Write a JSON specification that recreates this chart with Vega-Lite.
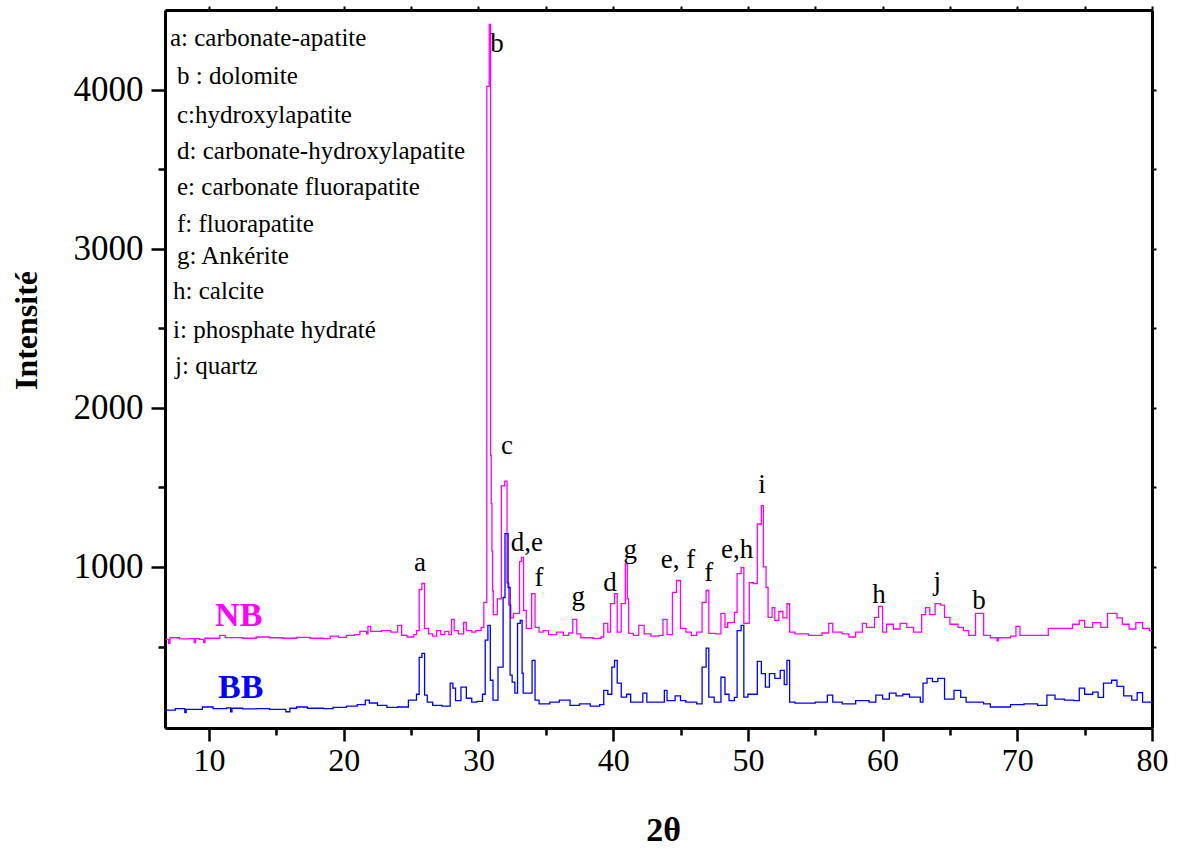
{
"$schema": "https://vega.github.io/schema/vega-lite/v6.json",
"width": 987, "height": 718,
"autosize": {"type": "none"},
"padding": {"left": 165, "top": 10, "right": 26, "bottom": 121},
"background": "white",
"config": {"view": {"stroke": null}, "font": "Liberation Serif"},
"datasets": {
"xrd": [
{"s":"NB","x":6.8,"y":545},{"s":"NB","x":7.0,"y":520},{"s":"NB","x":7.1,"y":555},{"s":"NB","x":7.8,"y":548},{"s":"NB","x":8.5,"y":550},{"s":"NB","x":8.9,"y":525},{"s":"NB","x":9.0,"y":550},{"s":"NB","x":9.3,"y":545},{"s":"NB","x":9.6,"y":525},{"s":"NB","x":9.7,"y":552},{"s":"NB","x":10.8,"y":570},{"s":"NB","x":11.2,"y":556},{"s":"NB","x":12.5,"y":552},{"s":"NB","x":13.5,"y":560},{"s":"NB","x":14.5,"y":555},{"s":"NB","x":15.5,"y":552},{"s":"NB","x":16.5,"y":558},{"s":"NB","x":17.5,"y":552},{"s":"NB","x":18.5,"y":550},{"s":"NB","x":19.0,"y":565},{"s":"NB","x":19.6,"y":558},{"s":"NB","x":20.2,"y":570},{"s":"NB","x":20.8,"y":575},{"s":"NB","x":21.2,"y":595},{"s":"NB","x":21.7,"y":580},{"s":"NB","x":21.8,"y":626},{"s":"NB","x":22.0,"y":595},{"s":"NB","x":22.8,"y":600},{"s":"NB","x":23.5,"y":590},{"s":"NB","x":24.0,"y":633},{"s":"NB","x":24.3,"y":570},{"s":"NB","x":24.7,"y":560},{"s":"NB","x":25.2,"y":575},{"s":"NB","x":25.4,"y":600},{"s":"NB","x":25.6,"y":858},{"s":"NB","x":25.8,"y":896},{"s":"NB","x":26.0,"y":614},{"s":"NB","x":26.3,"y":580},{"s":"NB","x":26.6,"y":565},{"s":"NB","x":26.9,"y":600},{"s":"NB","x":27.2,"y":575},{"s":"NB","x":27.5,"y":595},{"s":"NB","x":27.8,"y":575},{"s":"NB","x":28.0,"y":670},{"s":"NB","x":28.2,"y":600},{"s":"NB","x":28.5,"y":580},{"s":"NB","x":28.9,"y":652},{"s":"NB","x":29.1,"y":600},{"s":"NB","x":29.5,"y":590},{"s":"NB","x":29.8,"y":600},{"s":"NB","x":30.2,"y":620},{"s":"NB","x":30.4,"y":777},{"s":"NB","x":30.62,"y":4020},{"s":"NB","x":30.8,"y":4410},{"s":"NB","x":30.9,"y":1700},{"s":"NB","x":30.95,"y":1400},{"s":"NB","x":31.0,"y":1100},{"s":"NB","x":31.05,"y":850},{"s":"NB","x":31.1,"y":700},{"s":"NB","x":31.4,"y":800},{"s":"NB","x":31.7,"y":1510},{"s":"NB","x":31.95,"y":1540},{"s":"NB","x":32.12,"y":900},{"s":"NB","x":32.25,"y":760},{"s":"NB","x":32.4,"y":680},{"s":"NB","x":32.6,"y":708},{"s":"NB","x":33.05,"y":1034},{"s":"NB","x":33.2,"y":1060},{"s":"NB","x":33.35,"y":727},{"s":"NB","x":33.55,"y":614},{"s":"NB","x":33.95,"y":833},{"s":"NB","x":34.2,"y":620},{"s":"NB","x":34.5,"y":590},{"s":"NB","x":34.8,"y":600},{"s":"NB","x":35.2,"y":575},{"s":"NB","x":35.8,"y":590},{"s":"NB","x":36.3,"y":570},{"s":"NB","x":36.7,"y":585},{"s":"NB","x":37.0,"y":670},{"s":"NB","x":37.3,"y":580},{"s":"NB","x":37.6,"y":555},{"s":"NB","x":38.5,"y":551},{"s":"NB","x":39.1,"y":560},{"s":"NB","x":39.3,"y":645},{"s":"NB","x":39.6,"y":590},{"s":"NB","x":39.8,"y":770},{"s":"NB","x":40.1,"y":833},{"s":"NB","x":40.3,"y":590},{"s":"NB","x":40.6,"y":770},{"s":"NB","x":40.9,"y":1020},{"s":"NB","x":41.05,"y":800},{"s":"NB","x":41.15,"y":583},{"s":"NB","x":41.5,"y":570},{"s":"NB","x":41.9,"y":633},{"s":"NB","x":42.3,"y":580},{"s":"NB","x":42.8,"y":565},{"s":"NB","x":43.4,"y":570},{"s":"NB","x":43.7,"y":670},{"s":"NB","x":44.0,"y":575},{"s":"NB","x":44.4,"y":840},{"s":"NB","x":44.7,"y":915},{"s":"NB","x":45.0,"y":614},{"s":"NB","x":45.4,"y":590},{"s":"NB","x":45.8,"y":570},{"s":"NB","x":46.2,"y":590},{"s":"NB","x":46.6,"y":777},{"s":"NB","x":46.9,"y":852},{"s":"NB","x":47.1,"y":583},{"s":"NB","x":47.6,"y":580},{"s":"NB","x":48.0,"y":708},{"s":"NB","x":48.3,"y":620},{"s":"NB","x":48.5,"y":650},{"s":"NB","x":48.8,"y":652},{"s":"NB","x":49.0,"y":714},{"s":"NB","x":49.2,"y":958},{"s":"NB","x":49.5,"y":996},{"s":"NB","x":49.7,"y":645},{"s":"NB","x":50.1,"y":902},{"s":"NB","x":50.4,"y":896},{"s":"NB","x":50.7,"y":1270},{"s":"NB","x":51.0,"y":1385},{"s":"NB","x":51.15,"y":1000},{"s":"NB","x":51.35,"y":871},{"s":"NB","x":51.5,"y":683},{"s":"NB","x":51.8,"y":745},{"s":"NB","x":52.0,"y":664},{"s":"NB","x":52.3,"y":720},{"s":"NB","x":52.6,"y":680},{"s":"NB","x":52.9,"y":770},{"s":"NB","x":53.1,"y":590},{"s":"NB","x":53.5,"y":580},{"s":"NB","x":54.5,"y":570},{"s":"NB","x":55.5,"y":585},{"s":"NB","x":56.0,"y":645},{"s":"NB","x":56.3,"y":590},{"s":"NB","x":57.0,"y":580},{"s":"NB","x":57.5,"y":560},{"s":"NB","x":58.0,"y":590},{"s":"NB","x":58.5,"y":645},{"s":"NB","x":58.8,"y":620},{"s":"NB","x":59.4,"y":683},{"s":"NB","x":59.7,"y":752},{"s":"NB","x":60.0,"y":590},{"s":"NB","x":60.3,"y":640},{"s":"NB","x":60.8,"y":610},{"s":"NB","x":61.3,"y":645},{"s":"NB","x":61.8,"y":620},{"s":"NB","x":62.3,"y":590},{"s":"NB","x":62.9,"y":700},{"s":"NB","x":63.2,"y":745},{"s":"NB","x":63.5,"y":700},{"s":"NB","x":63.9,"y":770},{"s":"NB","x":64.3,"y":760},{"s":"NB","x":64.6,"y":683},{"s":"NB","x":65.0,"y":640},{"s":"NB","x":65.6,"y":620},{"s":"NB","x":66.0,"y":600},{"s":"NB","x":66.4,"y":570},{"s":"NB","x":66.9,"y":708},{"s":"NB","x":67.5,"y":570},{"s":"NB","x":68.0,"y":555},{"s":"NB","x":68.5,"y":535},{"s":"NB","x":68.6,"y":555},{"s":"NB","x":69.5,"y":565},{"s":"NB","x":69.9,"y":626},{"s":"NB","x":70.2,"y":570},{"s":"NB","x":71.3,"y":570},{"s":"NB","x":72.3,"y":614},{"s":"NB","x":73.5,"y":614},{"s":"NB","x":74.1,"y":640},{"s":"NB","x":74.6,"y":664},{"s":"NB","x":75.0,"y":620},{"s":"NB","x":75.6,"y":650},{"s":"NB","x":76.2,"y":620},{"s":"NB","x":76.7,"y":708},{"s":"NB","x":77.4,"y":680},{"s":"NB","x":77.8,"y":640},{"s":"NB","x":78.3,"y":610},{"s":"NB","x":78.8,"y":650},{"s":"NB","x":79.3,"y":614},{"s":"NB","x":79.8,"y":600},{"s":"NB","x":80.0,"y":600},
{"s":"BB","x":6.8,"y":100},{"s":"BB","x":7.5,"y":110},{"s":"BB","x":8.2,"y":85},{"s":"BB","x":8.3,"y":105},{"s":"BB","x":9.5,"y":120},{"s":"BB","x":10.3,"y":110},{"s":"BB","x":11.3,"y":115},{"s":"BB","x":11.6,"y":90},{"s":"BB","x":11.7,"y":112},{"s":"BB","x":12.5,"y":108},{"s":"BB","x":13.5,"y":110},{"s":"BB","x":14.5,"y":105},{"s":"BB","x":15.7,"y":90},{"s":"BB","x":16.0,"y":112},{"s":"BB","x":16.5,"y":120},{"s":"BB","x":17.3,"y":112},{"s":"BB","x":18.5,"y":110},{"s":"BB","x":19.2,"y":118},{"s":"BB","x":20.2,"y":125},{"s":"BB","x":21.0,"y":135},{"s":"BB","x":21.6,"y":163},{"s":"BB","x":21.9,"y":145},{"s":"BB","x":22.5,"y":130},{"s":"BB","x":23.2,"y":118},{"s":"BB","x":24.0,"y":120},{"s":"BB","x":24.8,"y":163},{"s":"BB","x":25.4,"y":200},{"s":"BB","x":25.6,"y":432},{"s":"BB","x":25.8,"y":457},{"s":"BB","x":26.0,"y":194},{"s":"BB","x":26.2,"y":150},{"s":"BB","x":26.6,"y":130},{"s":"BB","x":27.3,"y":125},{"s":"BB","x":27.9,"y":270},{"s":"BB","x":28.1,"y":238},{"s":"BB","x":28.3,"y":160},{"s":"BB","x":28.7,"y":245},{"s":"BB","x":29.1,"y":175},{"s":"BB","x":29.5,"y":150},{"s":"BB","x":29.9,"y":155},{"s":"BB","x":30.3,"y":200},{"s":"BB","x":30.5,"y":540},{"s":"BB","x":30.7,"y":633},{"s":"BB","x":30.88,"y":288},{"s":"BB","x":31.08,"y":163},{"s":"BB","x":31.45,"y":370},{"s":"BB","x":31.83,"y":808},{"s":"BB","x":31.97,"y":1210},{"s":"BB","x":32.2,"y":871},{"s":"BB","x":32.35,"y":320},{"s":"BB","x":32.5,"y":276},{"s":"BB","x":32.7,"y":207},{"s":"BB","x":32.9,"y":645},{"s":"BB","x":33.1,"y":664},{"s":"BB","x":33.24,"y":332},{"s":"BB","x":33.32,"y":207},{"s":"BB","x":33.98,"y":413},{"s":"BB","x":34.2,"y":163},{"s":"BB","x":34.5,"y":140},{"s":"BB","x":35.3,"y":150},{"s":"BB","x":36.0,"y":163},{"s":"BB","x":36.8,"y":130},{"s":"BB","x":37.5,"y":140},{"s":"BB","x":38.3,"y":125},{"s":"BB","x":39.0,"y":135},{"s":"BB","x":39.3,"y":225},{"s":"BB","x":39.6,"y":200},{"s":"BB","x":39.9,"y":370},{"s":"BB","x":40.1,"y":413},{"s":"BB","x":40.3,"y":270},{"s":"BB","x":40.6,"y":182},{"s":"BB","x":41.0,"y":200},{"s":"BB","x":41.3,"y":150},{"s":"BB","x":42.2,"y":207},{"s":"BB","x":42.5,"y":150},{"s":"BB","x":43.5,"y":150},{"s":"BB","x":43.8,"y":225},{"s":"BB","x":44.0,"y":160},{"s":"BB","x":44.6,"y":190},{"s":"BB","x":45.0,"y":160},{"s":"BB","x":45.4,"y":150},{"s":"BB","x":46.2,"y":140},{"s":"BB","x":46.6,"y":370},{"s":"BB","x":46.9,"y":490},{"s":"BB","x":47.1,"y":182},{"s":"BB","x":47.5,"y":150},{"s":"BB","x":48.0,"y":307},{"s":"BB","x":48.3,"y":200},{"s":"BB","x":48.6,"y":160},{"s":"BB","x":49.0,"y":180},{"s":"BB","x":49.2,"y":600},{"s":"BB","x":49.5,"y":633},{"s":"BB","x":49.7,"y":182},{"s":"BB","x":50.0,"y":200},{"s":"BB","x":50.7,"y":407},{"s":"BB","x":51.0,"y":330},{"s":"BB","x":51.3,"y":245},{"s":"BB","x":51.6,"y":330},{"s":"BB","x":52.0,"y":300},{"s":"BB","x":52.4,"y":350},{"s":"BB","x":52.7,"y":260},{"s":"BB","x":52.9,"y":413},{"s":"BB","x":53.1,"y":150},{"s":"BB","x":53.5,"y":144},{"s":"BB","x":55.0,"y":150},{"s":"BB","x":55.9,"y":194},{"s":"BB","x":56.3,"y":150},{"s":"BB","x":57.0,"y":140},{"s":"BB","x":58.0,"y":160},{"s":"BB","x":59.0,"y":150},{"s":"BB","x":59.5,"y":194},{"s":"BB","x":60.0,"y":170},{"s":"BB","x":60.5,"y":207},{"s":"BB","x":61.0,"y":190},{"s":"BB","x":61.5,"y":200},{"s":"BB","x":62.0,"y":182},{"s":"BB","x":62.8,"y":150},{"s":"BB","x":63.0,"y":270},{"s":"BB","x":63.3,"y":300},{"s":"BB","x":63.7,"y":280},{"s":"BB","x":64.1,"y":300},{"s":"BB","x":64.6,"y":170},{"s":"BB","x":65.3,"y":225},{"s":"BB","x":65.8,"y":180},{"s":"BB","x":66.2,"y":150},{"s":"BB","x":67.5,"y":140},{"s":"BB","x":68.0,"y":120},{"s":"BB","x":69.5,"y":135},{"s":"BB","x":70.5,"y":140},{"s":"BB","x":71.5,"y":130},{"s":"BB","x":72.2,"y":194},{"s":"BB","x":72.8,"y":170},{"s":"BB","x":73.5,"y":163},{"s":"BB","x":74.2,"y":160},{"s":"BB","x":74.6,"y":238},{"s":"BB","x":75.0,"y":200},{"s":"BB","x":75.6,"y":213},{"s":"BB","x":76.0,"y":180},{"s":"BB","x":76.4,"y":270},{"s":"BB","x":77.0,"y":288},{"s":"BB","x":77.4,"y":250},{"s":"BB","x":77.9,"y":190},{"s":"BB","x":78.5,"y":163},{"s":"BB","x":78.9,"y":210},{"s":"BB","x":79.3,"y":150},{"s":"BB","x":80.0,"y":135}
],
"peaks": [
{"t":"b","x":31.38,"y":4236},{"t":"c","x":32.12,"y":1710},{"t":"a","x":25.66,"y":977},{"t":"d,e","x":33.6,"y":1103},{"t":"f","x":34.5,"y":883},{"t":"g","x":37.4,"y":764},{"t":"d","x":39.77,"y":852},{"t":"g","x":41.26,"y":1059},{"t":"e, f","x":44.82,"y":996},{"t":"f","x":47.1,"y":909},{"t":"e,h","x":49.2,"y":1059},{"t":"i","x":51.05,"y":1466},{"t":"h","x":59.74,"y":771},{"t":"j","x":64.05,"y":858},{"t":"b","x":67.16,"y":733}
],
"notes": [
{"t":"a: carbonate-apatite","x":7.1,"y":4273},{"t":"b : dolomite","x":7.62,"y":4035},{"t":"c:hydroxylapatite","x":7.62,"y":3790},{"t":"d: carbonate-hydroxylapatite","x":7.62,"y":3565},{"t":"e: carbonate fluorapatite","x":7.62,"y":3340},{"t":"f: fluorapatite","x":7.62,"y":3108},{"t":"g: Ankérite","x":7.62,"y":2901},{"t":"h: calcite","x":7.33,"y":2682},{"t":"i: phosphate hydraté","x":7.33,"y":2437},{"t":"j: quartz","x":7.48,"y":2212}
],
"names": [
{"s":"NB","x":10.45,"y":627},{"s":"BB","x":10.67,"y":175}
]
},
"layer": [
{"data": {"name": "xrd"},
 "mark": {"type": "line", "interpolate": "step-after", "strokeWidth": 1.3},
 "encoding": {
  "x": {"field": "x", "type": "quantitative", "scale": {"domain": [6.73, 80], "nice": false, "zero": false},
   "axis": {"orient": "bottom", "values": [10,15,20,25,30,35,40,45,50,55,60,65,70,75,80], "labelExpr": "datum.value % 10 === 0 ? datum.label : ''", "title": "2θ", "grid": false, "domainColor": "black", "domainWidth": 3, "tickColor": "black", "tickWidth": 2.5, "tickSize": {"condition": {"test": "datum.value % 10 === 0", "value": 13}, "value": 7}, "labelFont": "Liberation Serif", "labelFontSize": 32, "labelColor": "black", "labelPadding": 4, "labelFlush": false, "labelOverlap": false, "titleFont": "Liberation Serif", "titleFontSize": 34, "titleFontWeight": "bold", "titleColor": "black", "titleX": 498, "titleY": 102, "titleBaseline": "middle"}},
  "y": {"field": "y", "type": "quantitative", "scale": {"domain": [-12, 4500], "nice": false, "zero": false},
   "axis": {"orient": "left", "values": [500,1000,1500,2000,2500,3000,3500,4000], "format": "d", "labelExpr": "datum.value % 1000 === 0 ? datum.label : ''", "title": "Intensité", "grid": false, "domainColor": "black", "domainWidth": 3, "tickColor": "black", "tickWidth": 2.5, "tickSize": {"condition": {"test": "datum.value % 1000 === 0", "value": 14}, "value": 7}, "labelFont": "Liberation Serif", "labelFontSize": 35, "labelColor": "black", "labelPadding": 8, "labelOverlap": false, "titleFont": "Liberation Serif", "titleFontSize": 32, "titleFontWeight": "bold", "titleColor": "black", "titleX": -139, "titleY": 320, "titleAngle": -90, "titleBaseline": "middle", "titleAlign": "center"}},
  "color": {"field": "s", "type": "nominal", "scale": {"domain": ["NB", "BB"], "range": ["#FF00FF", "#0000FF"]}, "legend": null}
 }},
{"data": {"name": "peaks"},
 "mark": {"type": "text", "fontSize": 27, "align": "center", "baseline": "alphabetic", "color": "black", "font": "Liberation Serif"},
 "encoding": {
  "x": {"field": "x", "type": "quantitative", "axis": {"orient": "top", "values": [10,15,20,25,30,35,40,45,50,55,60,65,70,75,80], "labels": false, "title": null, "grid": false, "domainColor": "black", "domainWidth": 3, "tickColor": "black", "tickWidth": 2, "tickSize": 4}},
  "y": {"field": "y", "type": "quantitative", "axis": {"orient": "right", "values": [500,1000,1500,2000,2500,3000,3500,4000], "labels": false, "title": null, "grid": false, "domainColor": "black", "domainWidth": 3, "tickColor": "black", "tickWidth": 2, "tickSize": 4}},
  "text": {"field": "t"}
 }},
{"data": {"name": "notes"},
 "mark": {"type": "text", "fontSize": 25, "align": "left", "baseline": "alphabetic", "color": "black", "font": "Liberation Serif"},
 "encoding": {
  "x": {"field": "x", "type": "quantitative", "axis": null},
  "y": {"field": "y", "type": "quantitative", "axis": null},
  "text": {"field": "t"}
 }},
{"data": {"name": "names"},
 "mark": {"type": "text", "fontSize": 34, "fontWeight": "bold", "align": "left", "baseline": "alphabetic", "font": "Liberation Serif"},
 "encoding": {
  "x": {"field": "x", "type": "quantitative", "axis": null},
  "y": {"field": "y", "type": "quantitative", "axis": null},
  "text": {"field": "s"},
  "color": {"field": "s", "type": "nominal", "legend": null}
 }}
],
"resolve": {"axis": {"x": "independent", "y": "independent"}}
}
